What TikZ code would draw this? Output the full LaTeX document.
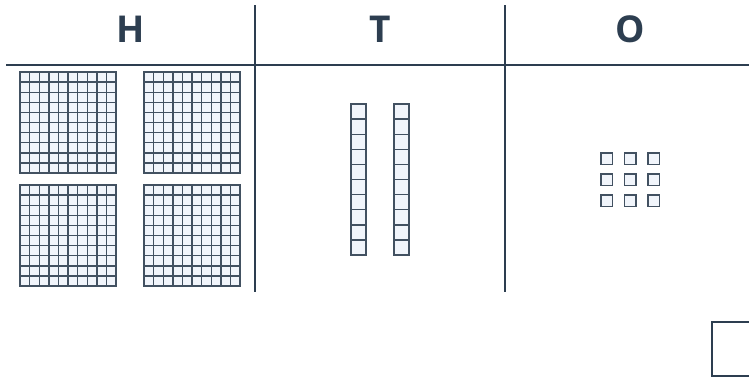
\documentclass[tikz,border=0pt]{standalone}
\usepackage{fontspec}
\setmainfont{Open Sans}
\definecolor{slate}{HTML}{2D3E50}
\definecolor{cellfill}{HTML}{F1F5FB}

\begin{document}
\begin{tikzpicture}[x=0.5pt,y=-0.5pt,
    head/.style={font=\bfseries\fontsize{18.5}{20}\selectfont,text=slate},
    rule/.style={slate,line width=1pt},
    cell/.style={draw=slate!90,fill=cellfill,line width=0.7pt}]
  \useasboundingbox (0,0) rectangle (749,376);
  \clip (0,0) rectangle (749,376);
  % place value headings
  \node[head] (hund) at (130.5,29.5) {H};
  \node[head] (tens) at (380,29.5) {T};
  \node[head] (ones) at (630,29.5) {O};
  \draw[rule] (6,65)--(760,65);
  \draw[rule] (255,5)--(255,292);
  \draw[rule] (505,5)--(505,292);
  % hundreds
  \foreach \gx/\gy in {20/72,144/72,20/185,144/185}
    \foreach \i in {0,...,9}
      \foreach \j in {0,...,9}
        \draw[cell] ({\gx+9.6*\i},{\gy+10.1*\j}) rectangle +(9.6,10.1);
  % tens
  \foreach \rx in {351,394}
    \foreach \j in {0,...,9}
      \draw[cell] (\rx,{104+15.1*\j}) rectangle +(15,15.1);
  % ones
  \foreach \i in {0,1,2}
    \foreach \j in {0,1,2}
      \draw[cell] ({601+23.5*\i},{153+21*\j}) rectangle +(11.5,11.5);
  % answer box
  \draw[rule] (712,322) rectangle (766,375.5);
\end{tikzpicture}
\end{document}
